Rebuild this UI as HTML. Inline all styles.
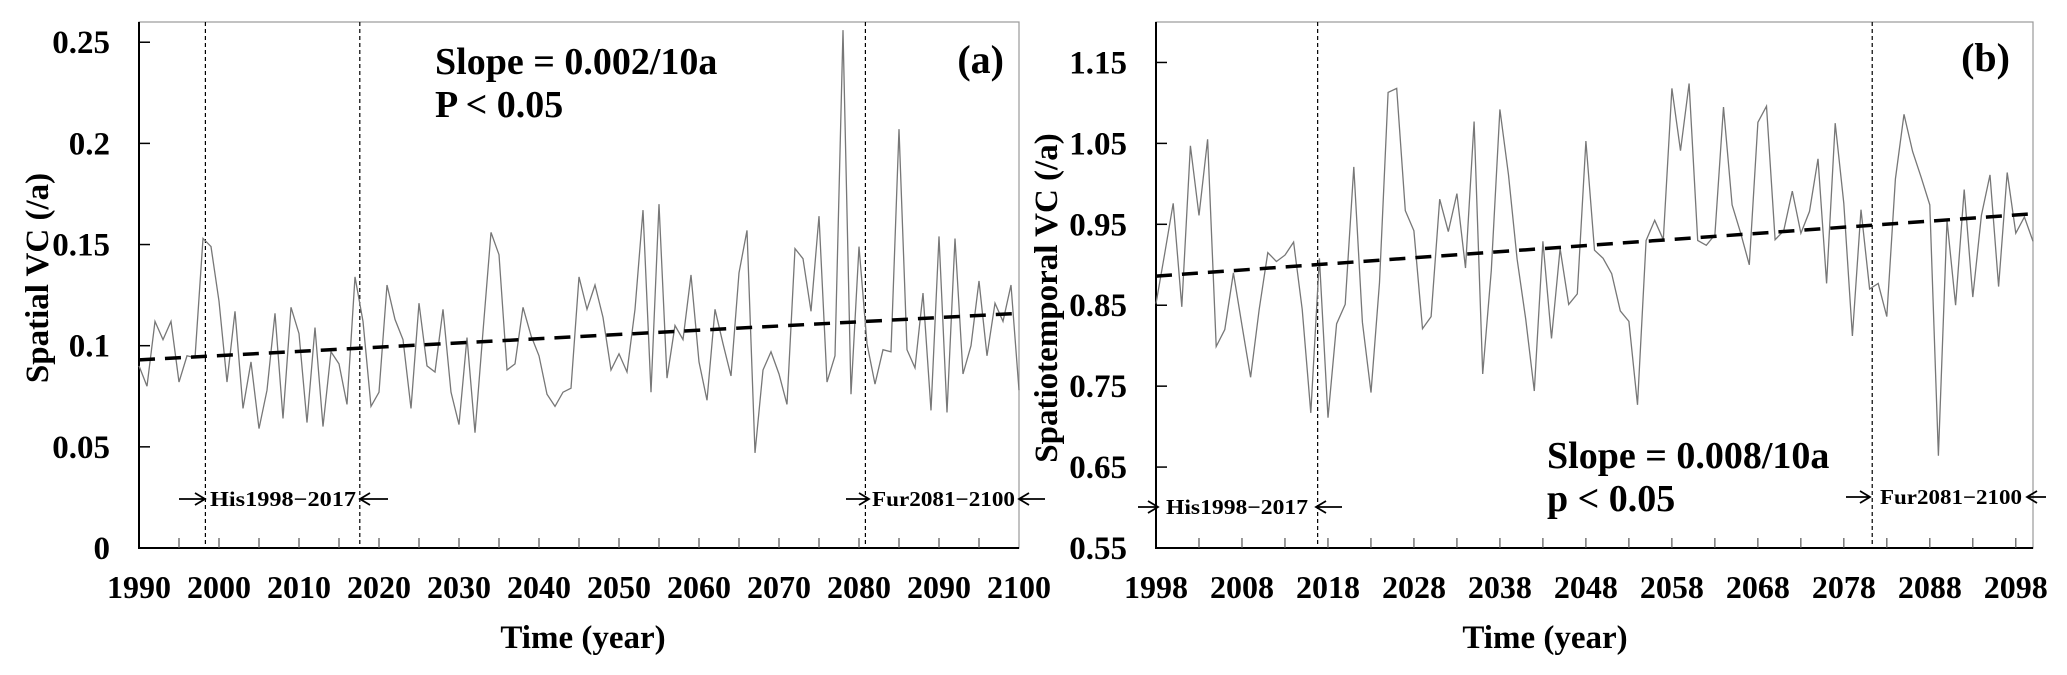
<!DOCTYPE html>
<html><head><meta charset="utf-8"><style>
html,body{margin:0;padding:0;background:#fff;}
svg{display:block;font-family:"Liberation Serif",serif;font-weight:bold;}
</style></head><body>
<svg id="chart" width="2067" height="675" viewBox="0 0 2067 675" xmlns="http://www.w3.org/2000/svg"></svg>
<script>
// ---- Panel (a) data ----
const yearsA = [];
for (let y = 1990; y <= 2100; y++) yearsA.push(y);
const valuesA = [0.090,0.080,0.112,0.103,0.112,0.082,0.095,0.094,0.153,0.149,0.122,0.082,0.117,0.069,0.092,0.059,0.078,0.116,0.064,0.119,0.106,0.062,0.109,0.060,0.097,0.091,0.071,0.134,0.112,0.070,0.077,0.130,0.113,0.103,0.069,0.121,0.090,0.087,0.118,0.077,0.061,0.104,0.057,0.107,0.156,0.145,0.088,0.091,0.119,0.105,0.095,0.076,0.070,0.077,0.079,0.134,0.118,0.130,0.114,0.088,0.096,0.087,0.118,0.167,0.077,0.170,0.084,0.110,0.103,0.135,0.092,0.073,0.118,0.101,0.085,0.136,0.157,0.047,0.088,0.097,0.086,0.071,0.148,0.143,0.117,0.164,0.082,0.095,0.256,0.076,0.149,0.101,0.081,0.098,0.097,0.207,0.098,0.089,0.126,0.068,0.154,0.067,0.153,0.086,0.100,0.132,0.095,0.121,0.112,0.130,0.078];
const trendA = [0.093, 0.116];
const yTicksA = [0, 0.05, 0.1, 0.15, 0.2, 0.25];
const yTickLabelsA = ["0","0.05","0.1","0.15","0.2","0.25"];
const xTicksA = [1990,2000,2010,2020,2030,2040,2050,2060,2070,2080,2090,2100];

// ---- Panel (b) data ----
const yearsB = [];
for (let y = 1998; y <= 2100; y++) yearsB.push(y);
const valuesB = [0.852,0.913,0.976,0.848,1.047,0.961,1.055,0.799,0.820,0.890,0.825,0.761,0.845,0.915,0.904,0.912,0.928,0.845,0.717,0.908,0.711,0.827,0.851,1.021,0.829,0.742,0.878,1.113,1.118,0.967,0.942,0.821,0.836,0.981,0.941,0.988,0.896,1.077,0.765,0.893,1.092,1.011,0.907,0.833,0.744,0.929,0.809,0.920,0.851,0.864,1.053,0.918,0.908,0.889,0.843,0.830,0.727,0.930,0.955,0.931,1.118,1.041,1.124,0.930,0.924,0.937,1.095,0.974,0.939,0.900,1.076,1.096,0.931,0.942,0.991,0.939,0.966,1.031,0.877,1.075,0.976,0.812,0.968,0.870,0.877,0.836,1.006,1.086,1.040,1.008,0.974,0.664,0.955,0.850,0.993,0.860,0.961,1.011,0.873,1.014,0.939,0.959,0.929];
const trendB = [0.886, 0.963];
const yTicksB = [0.55,0.65,0.75,0.85,0.95,1.05,1.15];
const yTickLabelsB = ["0.55","0.65","0.75","0.85","0.95","1.05","1.15"];
const xTicksB = [1998,2008,2018,2028,2038,2048,2058,2068,2078,2088,2098];

const NS = "http://www.w3.org/2000/svg";
const svg = document.getElementById('chart');
function mk(tag, attrs, parent, text) {
  const e = document.createElementNS(NS, tag);
  for (const k in attrs) e.setAttribute(k, attrs[k]);
  if (text !== undefined) e.textContent = text;
  (parent || svg).appendChild(e);
  return e;
}
function arrow(g, xFrom, xTo, y) {
  const dir = xTo > xFrom ? 1 : -1;
  const p = mk('path', {d:`M${xFrom},${y} L${xTo},${y} M${xTo-dir*10},${y-6} L${xTo},${y} L${xTo-dir*10},${y+6}`, fill:'none', stroke:'#000', 'stroke-width':1.8}, g);
  return p;
}

function panel(cfg) {
  const g = mk('g', {});
  
  
  const L = cfg.left, R = cfg.right, T = 22, B = 548;
  const xs = v => L + (v - cfg.x0) / (cfg.x1 - cfg.x0) * (R - L);
  const ys = v => B - (v - cfg.y0) / (cfg.y1 - cfg.y0) * (B - T);

  const frame = mk('rect', {x:L, y:T, width:R-L, height:B-T, fill:'none', stroke:'#999', 'stroke-width':1.2}, g);
  
  
  const ax = mk('path', {d:`M${L},${T} L${L},${B} L${R},${B}`, fill:'none', stroke:'#000', 'stroke-width':2}, g);
  
  

  cfg.yTicks.forEach((v, i) => {
    const y = ys(v);
    const t = mk('line', {x1:L, x2:L+11, y1:y, y2:y, stroke:'#000', 'stroke-width':1.5}, g);
    
    
    const lb = mk('text', {x:L-29, y:y+11, 'text-anchor':'end', 'font-size':33}, g, cfg.yLabels[i]);
    
    
  });
  for (let yr = cfg.x0 + 5; yr < cfg.x1; yr += 5) {
    const x = xs(yr);
    const t = mk('line', {x1:x, x2:x, y1:B, y2:B-10, stroke:'#555', 'stroke-width':1.2}, g);
    
    
  }
  cfg.xTicks.forEach(v => {
    const lb = mk('text', {x:xs(v), y:598, 'text-anchor':'middle', 'font-size':32}, g, String(v));
    
    
  });

  cfg.vlines.forEach(v => {
    const l = mk('line', {x1:xs(v), x2:xs(v), y1:T, y2:B, stroke:'#000', 'stroke-width':1.2, 'stroke-dasharray':'4,3'}, g);
    
    
  });

  const pts = cfg.years.map((yr, i) => xs(yr).toFixed(1) + ',' + ys(cfg.values[i]).toFixed(1)).join(' ');
  const line = mk('polyline', {points:pts, fill:'none', stroke:'#777', 'stroke-width':1.3}, g);
  
  

  const tr = mk('line', {x1:xs(cfg.x0), y1:ys(cfg.trend[0]), x2:xs(cfg.x1), y2:ys(cfg.trend[1]), stroke:'#000', 'stroke-width':3.5, 'stroke-dasharray':'16,10'}, g);
  
  

  cfg.periods.forEach(p => {
    const a1 = arrow(g, p.a1, p.a1e, p.y);
    
    
    const tx = mk('text', {x:p.tx, y:p.y+7, 'font-size':21, textLength:p.tw, lengthAdjust:'spacingAndGlyphs'}, g, p.label);
    
    
    const a2 = arrow(g, p.a2e, p.a2, p.y);
    
    
  });

  const s1 = mk('text', {x:cfg.slope.x, y:cfg.slope.y, 'font-size':38}, g, cfg.slope.t1);
  
  
  const s2 = mk('text', {x:cfg.slope.x, y:cfg.slope.y+43, 'font-size':38}, g, cfg.slope.t2);
  
  
  const pl = mk('text', {x:cfg.tag.x, y:cfg.tag.y, 'font-size':40, 'text-anchor':'end'}, g, cfg.tag.t);
  
  

  const xt = mk('text', {x:cfg.xTitleX, y:648, 'font-size':33, 'text-anchor':'middle'}, g, 'Time (year)');
  
  
  const yt = mk('text', {x:0, y:0, 'font-size':33, 'text-anchor':'middle', transform:`translate(${cfg.yTitleX},${cfg.yTitleY}) rotate(-90)`}, g, cfg.yTitle);
  
  
}

panel({
  name:'panel-a-spatial-vc', left:139, right:1019, x0:1990, x1:2100, y0:0, y1:0.26,
  years:yearsA, values:valuesA, trend:trendA, yTicks:yTicksA, yLabels:yTickLabelsA, xTicks:xTicksA,
  vlines:[1998.3, 2017.6, 2080.8],
  periods:[{label:'His1998−2017', a1:179, a1e:205, tx:210, tw:146, a2:360, a2e:388, y:499},
           {label:'Fur2081−2100', a1:846, a1e:869, tx:872, tw:143, a2:1019, a2e:1045, y:499}],
  slope:{x:435, y:74, t1:'Slope = 0.002/10a', t2:'P < 0.05'},
  tag:{x:1004, y:73, t:'(a)'},
  xTitleX:583, yTitleX:48, yTitleY:278, yTitle:'Spatial VC (/a)'
});
panel({
  name:'panel-b-spatiotemporal-vc', left:1156, right:2033, x0:1998, x1:2100, y0:0.55, y1:1.2,
  years:yearsB, values:valuesB, trend:trendB, yTicks:yTicksB, yLabels:yTickLabelsB, xTicks:xTicksB,
  vlines:[2016.8, 2081.3],
  periods:[{label:'His1998−2017', a1:1138, a1e:1158, tx:1166, tw:142, a2:1316, a2e:1342, y:507},
           {label:'Fur2081−2100', a1:1846, a1e:1870, tx:1880, tw:142, a2:2027, a2e:2046, y:497}],
  slope:{x:1547, y:468, t1:'Slope = 0.008/10a', t2:'p < 0.05'},
  tag:{x:2010, y:71, t:'(b)'},
  xTitleX:1545, yTitleX:1057, yTitleY:298, yTitle:'Spatiotemporal VC (/a)'
});
</script>
</body></html>
